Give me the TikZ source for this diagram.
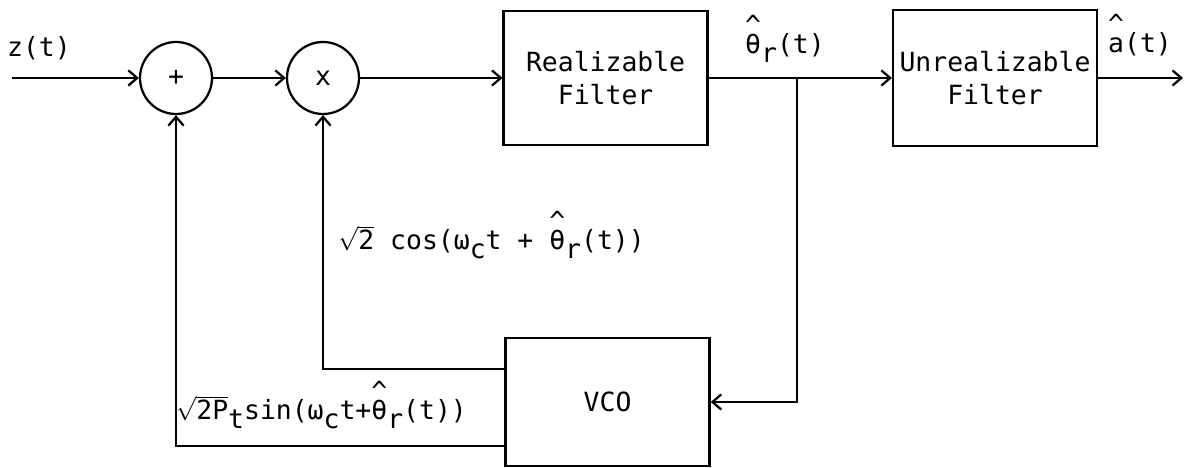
\documentclass[tikz,border=0pt]{standalone}
\usepackage{amsmath,amssymb}
\usepackage{fontspec}
\setmainfont{DejaVu Sans Mono}
\usepackage{tikz}
\usetikzlibrary{positioning,arrows.meta}

\newcommand{\hatsym}[1]{\ooalign{#1\cr\hidewidth\raisebox{0.72em}{\char"5E}\hidewidth\cr}}
\newcommand{\lowsub}[1]{\raisebox{-0.32em}{#1}}

\begin{document}
\begin{tikzpicture}[>={Straight Barb[length=2.2mm,width=3.8mm]}, line width=1.6pt, font=\fontsize{18.8}{24}\selectfont,
	block/.style={draw, minimum width=5.1cm, minimum height=3.35cm, align=center},
	junction/.style={draw, circle, minimum size=1.8cm, inner sep=0pt}]
		\useasboundingbox (0,0) rectangle (29.875,11.7);
		
		\coordinate (in) at (0.3,9.75);
		\coordinate (br) at (19.925,9.75);
		\coordinate (out) at (29.575,9.75);
		
		\node[junction] (sum) at (4.4,9.75) {+};
		\node[junction] (mult) at (8.075,9.75) {x};
		\node[block] (rf) at (15.14,9.75) {Realizable\\Filter};
		\node[block, minimum height=3.4cm] (uf) at (24.875,9.75) {Unrealizable\\Filter};
		\node[block, minimum height=3.2cm] (vco) at (15.19,1.65) {VCO};
		
		\draw[->] (in) -- (sum);
		\draw[->] (sum) -- (mult);
		\draw[->] (mult) -- (rf);
		\draw (rf) -- (br);
		\draw[->] (br) -- (uf);
		\draw[->] (uf) -- (out);
		\draw[->] (br) |- (vco);
		\draw[->] ([yshift=0.825cm]vco.west) -| (mult);
		\draw[->] ([yshift=-1.1cm]vco.west) -| (sum);
		
		\node[anchor=base] (zlab) at (0.975,10.275) {z(t)};
		\node[anchor=base] (thlab) at (19.625,10.35) {\hatsym{θ}\lowsub{r}(t)};
		\node[anchor=base] (alab) at (28.5,10.375) {\hatsym{a}(t)};
		\node[anchor=base west, inner sep=0pt] (coslab) at (8.425,5.45)
		{$\sqrt{\mbox{2}}$ cos(ω\lowsub{c}t + \hatsym{θ}\lowsub{r}(t))};
		\node[anchor=base west, inner sep=0pt] (sinlab) at (4.375,1.2)
		{$\sqrt{\mbox{2P}}$\lowsub{t}sin(ω\lowsub{c}t+\hatsym{θ}\lowsub{r}(t))};
	\end{tikzpicture}
\end{document}
